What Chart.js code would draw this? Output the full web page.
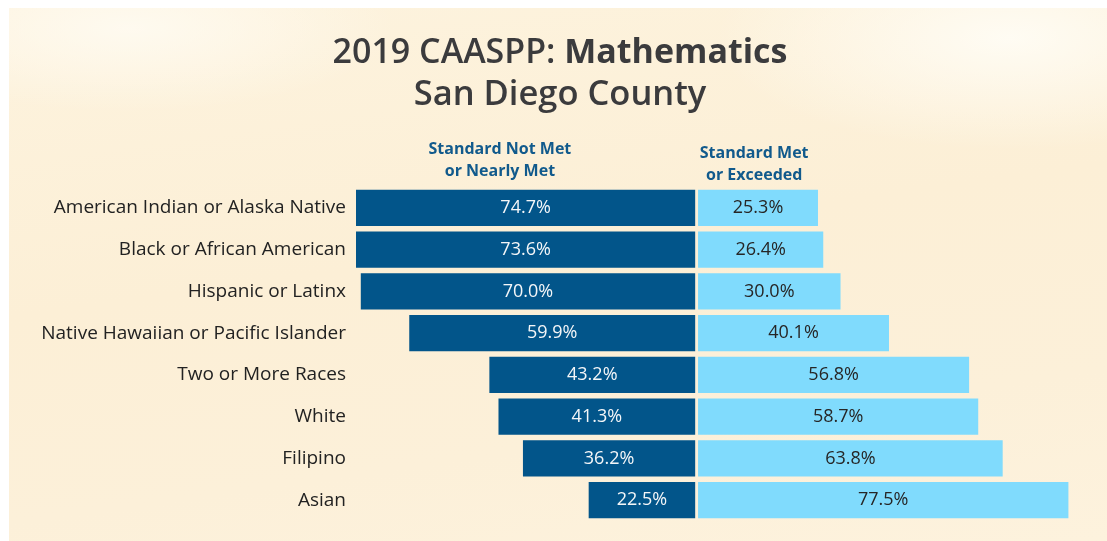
<!DOCTYPE html>
<html>
<head>
<meta charset="utf-8">
<script src="https://cdn.jsdelivr.net/npm/chart.js@4"></script>
<style>
  body { margin: 0; background: #ffffff; }
  #wrap { position: relative; width: 1107px; height: 541px; }
  #paper {
    position: absolute; left: 9px; top: 8px; right: 0; bottom: 0;
    background:
      radial-gradient(ellipse 420px 160px at 1000px 30px, rgba(255,253,246,0.9), rgba(255,253,246,0) 70%),
      radial-gradient(ellipse 380px 120px at 120px 20px, rgba(255,252,244,0.8), rgba(255,252,244,0) 70%),
      linear-gradient(172deg, #fdf3de 0%, #fcefd6 45%, #fcf0d9 75%, #fdf2dd 100%);
  }
  canvas { position: absolute; left: 0; top: 0; }
</style>
</head>
<body>
<div id="wrap">
  <div id="paper"></div>
  <canvas id="chart" width="1107" height="541"></canvas>
</div>
<script>
document.addEventListener('DOMContentLoaded', function () {
  const groups = [
    'American Indian or Alaska Native',
    'Black or African American',
    'Hispanic or Latinx',
    'Native Hawaiian or Pacific Islander',
    'Two or More Races',
    'White',
    'Filipino',
    'Asian'
  ];
  const notMet = [74.7, 73.6, 70.0, 59.9, 43.2, 41.3, 36.2, 22.5];
  const metOrExceeded = [25.3, 26.4, 30.0, 40.1, 56.8, 58.7, 63.8, 77.5];
  const headerNotMet = ['Standard Not Met', 'or Nearly Met'];
  const headerMet = ['Standard Met', 'or Exceeded'];

  const FONT = '"Open Sans", Lato, sans-serif';
  const gap = 0.3; // half of the white gap at zero, in %

  // Title and column headers
  const headingPlugin = {
    id: 'headings',
    afterDraw(chart) {
      const ctx = chart.ctx;
      const x = chart.scales.x;
      ctx.save();
      ctx.textAlign = 'left';
      ctx.textBaseline = 'alphabetic';
      ctx.fillStyle = '#3b3b3d';
      // line 1 with two weights
      const partA = '2019 CAASPP: ';
      const partB = 'Mathematics';
      ctx.font = '600 34px ' + FONT;
      const wA = ctx.measureText(partA).width;
      ctx.font = 'bold 34px ' + FONT;
      const wB = ctx.measureText(partB).width;
      const start = 560 - (wA + wB) / 2;
      ctx.font = '600 34px ' + FONT;
      ctx.fillText(partA, start, 63);
      ctx.font = 'bold 34px ' + FONT;
      ctx.fillText(partB, start + wA, 63);
      ctx.font = '600 34.5px ' + FONT;
      ctx.textAlign = 'center';
      ctx.fillText('San Diego County', 560, 105);

      // column headers
      ctx.fillStyle = '#115a8c';
      ctx.font = 'bold 16px ' + FONT;
      const cxLeft = x.getPixelForValue(-41);
      headerNotMet.forEach((t, i) => ctx.fillText(t, cxLeft, 154 + i * 22));
      const cxRight = x.getPixelForValue(12);
      headerMet.forEach((t, i) => ctx.fillText(t, cxRight, 158 + i * 22));
      ctx.restore();
    }
  };

  // Value labels centered in the visible part of each bar
  const valueLabels = {
    id: 'valueLabels',
    afterDatasetsDraw(chart) {
      const ctx = chart.ctx;
      const area = chart.chartArea;
      ctx.save();
      ctx.font = '18px ' + FONT;
      ctx.textAlign = 'center';
      ctx.textBaseline = 'middle';
      chart.data.datasets.forEach((ds, di) => {
        const meta = chart.getDatasetMeta(di);
        meta.data.forEach((bar, i) => {
          const a = Math.max(Math.min(bar.x, bar.base), area.left);
          const b = Math.min(Math.max(bar.x, bar.base), area.right);
          ctx.fillStyle = ds.labelColor;
          ctx.fillText(ds.values[i].toFixed(1) + '%', (a + b) / 2, bar.y);
        });
      });
      ctx.restore();
    }
  };

  new Chart(document.getElementById('chart'), {
    type: 'bar',
    data: {
      labels: groups,
      datasets: [
        {
          label: headerNotMet.join(' '),
          data: notMet.map(v => [-v, -gap]),
          values: notMet,
          labelColor: '#f4f6f8',
          backgroundColor: '#02558a',
          borderSkipped: false,
          barPercentage: 0.865,
          categoryPercentage: 1
        },
        {
          label: headerMet.join(' '),
          data: metOrExceeded.map(v => [gap, v]),
          values: metOrExceeded,
          labelColor: '#262626',
          backgroundColor: '#80dbfd',
          borderSkipped: false,
          barPercentage: 0.865,
          categoryPercentage: 1
        }
      ]
    },
    options: {
      indexAxis: 'y',
      responsive: false,
      animation: false,
      layout: { padding: { top: 187, right: 17, bottom: 20, left: 0 } },
      plugins: {
        legend: { display: false },
        title: { display: false },
        tooltip: { enabled: false }
      },
      scales: {
        x: {
          display: false,
          min: -71,
          max: 82
        },
        y: {
          stacked: true,
          grid: { display: false },
          border: { display: false },
          afterFit: s => { s.width = 356; },
          ticks: {
            color: '#222222',
            padding: 2,
            font: { family: FONT, size: 19 }
          }
        }
      }
    },
    plugins: [headingPlugin, valueLabels]
  });
});
</script>
</body>
</html>
